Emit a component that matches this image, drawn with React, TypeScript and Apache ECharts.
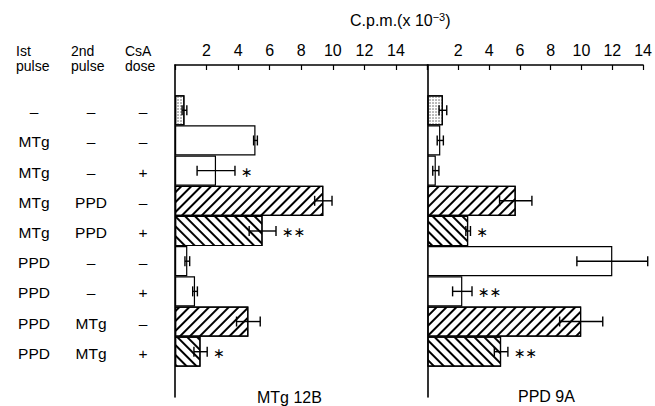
import React, { useEffect, useRef } from 'react';
import * as echarts from 'echarts';

// Table of treatments (rows, top to bottom)
const headers = [['Ist', 'pulse'], ['2nd', 'pulse'], ['CsA', 'dose']];
const firstPulse = ['–', 'MTg', 'MTg', 'MTg', 'MTg', 'PPD', 'PPD', 'PPD', 'PPD'];
const secondPulse = ['–', '–', '–', 'PPD', 'PPD', '–', '–', 'MTg', 'MTg'];
const csaDose = ['–', '–', '+', '–', '+', '–', '+', '–', '+'];
const patterns = ['stipple', 'open', 'open', 'fwd', 'back', 'open', 'open', 'fwd', 'back'];

// Panel MTg 12B
const mtgValues = [0.6, 5.1, 2.6, 9.4, 5.55, 0.78, 1.27, 4.65, 1.62];
const mtgErrors = [0.15, 0.12, 1.2, 0.55, 0.85, 0.15, 0.15, 0.75, 0.42];
const mtgSig = ['', '', '*', '', '**', '', '', '', '*'];

// Panel PPD 9A
const ppdValues = [1.0, 0.83, 0.54, 5.73, 2.64, 12.0, 2.26, 9.98, 4.78];
const ppdErrors = [0.25, 0.2, 0.2, 1.05, 0.15, 2.3, 0.63, 1.4, 0.44];
const ppdSig = ['', '', '', '', '*', '', '**', '', '**'];

const panelNames = ['MTg 12B', 'PPD 9A'];
const tickValues = [2, 4, 6, 8, 10, 12, 14];
const axisTitle = 'C.p.m.(x 10';
const axisTitleSup = '−3';

const FONT = '"Liberation Sans", Arial, sans-serif';

const decalFor = (p: string): any => {
  if (p === 'stipple')
    return { symbol: 'circle', symbolSize: 0.7, dashArrayX: [2, 1], dashArrayY: [2, 1], color: '#555', backgroundColor: '#fff' };
  if (p === 'fwd')
    return { symbol: 'rect', symbolSize: 1, dashArrayX: [1, 0], dashArrayY: [1.3, 4.2], rotation: -Math.PI / 4, color: '#000', backgroundColor: '#fff' };
  if (p === 'back')
    return { symbol: 'rect', symbolSize: 1, dashArrayX: [1, 0], dashArrayY: [1.3, 4.2], rotation: Math.PI / 4, color: '#000', backgroundColor: '#fff' };
  return undefined;
};

const categories = ['', ...firstPulse.map((_, i) => 'r' + i), ''];

const barData = (values: number[]) => [
  '-',
  ...values.map((v, i) => {
    const d = decalFor(patterns[i]);
    return { value: v, itemStyle: d ? { color: '#fff', decal: d } : { color: '#fff' } };
  }),
  '-',
];

const errSeries = (values: number[], errors: number[], sig: string[], idx: number) => ({
  type: 'custom',
  xAxisIndex: idx,
  yAxisIndex: idx,
  clip: false,
  z: 5,
  encode: { x: 0, y: 1 },
  data: values.map((v, i) => [v, i + 1, errors[i], i]),
  renderItem: (params: any, api: any) => {
    const v = api.value(0);
    const c = api.value(1);
    const e = api.value(2);
    const k = api.value(3);
    const a = api.coord([v - e, c]);
    const b = api.coord([v + e, c]);
    const cap = 5;
    const ls = { stroke: '#000', lineWidth: 1.4 };
    const children: any[] = [
      { type: 'line', shape: { x1: a[0], y1: a[1], x2: b[0], y2: b[1] }, style: ls },
      { type: 'line', shape: { x1: a[0], y1: a[1] - cap, x2: a[0], y2: a[1] + cap }, style: ls },
      { type: 'line', shape: { x1: b[0], y1: b[1] - cap, x2: b[0], y2: b[1] + cap }, style: ls },
    ];
    const s = sig[k];
    if (s) {
      children.push({
        type: 'text',
        style: {
          text: s.replace(/\*/g, '∗'),
          x: b[0] + 6,
          y: b[1] + 1,
          fill: '#000',
          fontSize: 14,
          fontFamily: '"DejaVu Sans", sans-serif',
          verticalAlign: 'middle',
          align: 'left',
        },
      });
    }
    return { type: 'group', children };
  },
});

const xAxisBase = (max: number) => ({
  type: 'value',
  position: 'top',
  min: 0,
  max,
  interval: 2,
  axisLine: { show: true, lineStyle: { color: '#000', width: 1.6 } },
  axisTick: { show: true, inside: true, length: 5, lineStyle: { color: '#000', width: 1.2 } },
  axisLabel: {
    color: '#000',
    fontSize: 16,
    fontFamily: FONT,
    margin: 7,
    formatter: (v: number) => (tickValues.includes(v) ? String(v) : ''),
  },
  splitLine: { show: false },
});

const richCell = (w: number) => ({ width: w, align: 'center', fontSize: 15.5, fontFamily: FONT, color: '#000', padding: [3, 0, 0, 0] });

const yAxisBase = (showLabels: boolean) => ({
  type: 'category',
  inverse: true,
  data: categories,
  axisLine: { show: true, lineStyle: { color: '#000', width: 1.6 } },
  axisTick: { show: false },
  splitLine: { show: false },
  axisLabel: showLabels
    ? {
        interval: 0,
        margin: 3,
        formatter: (_v: string, index: number) => {
          if (index < 1 || index > firstPulse.length) return '';
          const i = index - 1;
          return `{a|${firstPulse[i]}}{b|${secondPulse[i]}}{c|${csaDose[i]}}`;
        },
        rich: { a: richCell(68), b: richCell(46), c: richCell(58) },
      }
    : { show: false },
});

export default function App() {
  const ref = useRef<HTMLDivElement>(null);
  useEffect(() => {
    document.body.style.margin = '0';
    const chart = echarts.init(ref.current!, null, { renderer: 'svg' });
    const headerX = [16, 71, 125];
    const graphics: any[] = [];
    headers.forEach((h, i) => {
      h.forEach((line, j) => {
        graphics.push({
          type: 'text',
          left: headerX[i],
          top: 44 + j * 14.5,
          style: { text: line, fontSize: 14, fontFamily: FONT, fill: '#000' },
        });
      });
    });
    graphics.push({
      type: 'text',
      left: 350,
      top: 11,
      style: {
        text: `{m|${axisTitle}}{s|${axisTitleSup}}{m|)}`,
        rich: {
          m: { fontSize: 16, fontFamily: FONT, fill: '#000' },
          s: { fontSize: 11, fontFamily: FONT, fill: '#000', padding: [0, 0, 8, 0] },
        },
      },
    });
    graphics.push({
      type: 'text',
      left: 257,
      top: 389,
      style: { text: panelNames[0], fontSize: 16, fontFamily: FONT, fill: '#000' },
    });
    graphics.push({
      type: 'text',
      left: 518,
      top: 388,
      style: { text: panelNames[1], fontSize: 16, fontFamily: FONT, fill: '#000' },
    });

    chart.setOption({
      animation: false,
      backgroundColor: '#fff',
      grid: [
        { left: 175, top: 65, width: 252.5, height: 332 },
        { left: 427.5, top: 65, width: 222, height: 332 },
      ],
      xAxis: [{ ...xAxisBase(16), gridIndex: 0 }, { ...xAxisBase(14), gridIndex: 1 }],
      yAxis: [{ ...yAxisBase(true), gridIndex: 0 }, { ...yAxisBase(false), gridIndex: 1 }],
      series: [
        {
          type: 'bar',
          xAxisIndex: 0,
          yAxisIndex: 0,
          barCategoryGap: '0%',
          itemStyle: { borderColor: '#000', borderWidth: 1.2 },
          data: barData(mtgValues),
        },
        {
          type: 'bar',
          xAxisIndex: 1,
          yAxisIndex: 1,
          barCategoryGap: '0%',
          itemStyle: { borderColor: '#000', borderWidth: 1.2 },
          data: barData(ppdValues),
        },
        errSeries(mtgValues, mtgErrors, mtgSig, 0),
        errSeries(ppdValues, ppdErrors, ppdSig, 1),
      ],
      graphic: graphics,
    });
    return () => chart.dispose();
  }, []);
  return <div ref={ref} style={{ width: 655, height: 406 }} />;
}
